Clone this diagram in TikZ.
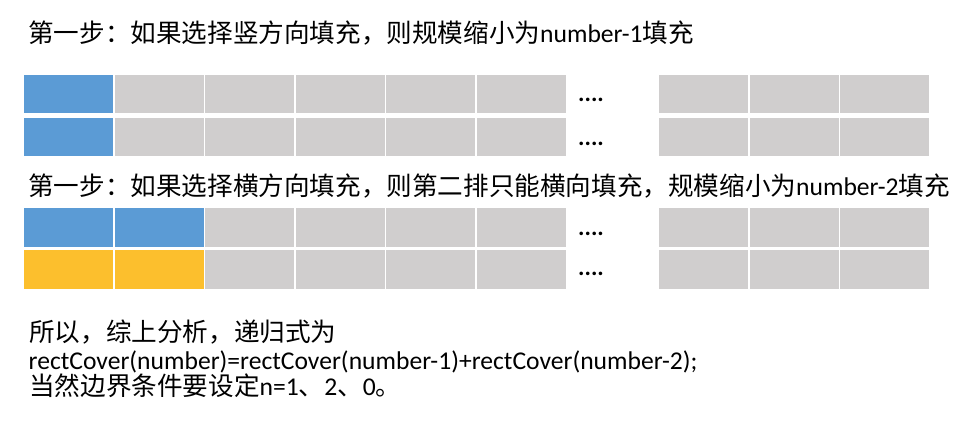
\documentclass[tikz,border=0pt]{standalone}
\usepackage{fontspec}
\setmainfont{Carlito}
\newfontfamily\cjk{Noto Sans CJK SC}
\definecolor{cblue}{HTML}{5B9BD5}
\definecolor{cgray}{HTML}{D0CECE}
\definecolor{cgold}{HTML}{FCBF2D}
\begin{document}
\begin{tikzpicture}[x=1pt,y=-1pt,
  cell/.style={fill=cgray,draw=none,minimum width=89pt,inner sep=0pt,anchor=north west},
  txt/.style={anchor=base west,inner sep=0pt,font=\fontsize{25.6}{30}\selectfont},
  dots/.style={anchor=base west,inner sep=0pt,font=\fontsize{24}{28}\bfseries\selectfont}]
\useasboundingbox[fill=white] (0,0) rectangle (972,436);
% title 1
\node[txt] (t1) at (28,42.5) {{\cjk 第一步：如果选择竖方向填充，则规模缩小为}number-1{\cjk 填充}};
% grid
\foreach \r/\y/\h in {a/75/38,b/118/38,c/208/39,d/250/39}{
  \foreach \i/\x in {1/24,2/114.5,3/205,4/295.5,5/386,6/476.5,7/659,8/749.5,9/840}{
    \node[cell,minimum height=\h pt] (\r\i) at (\x,\y) {};
  }
}
% coloured cells
\node[cell,minimum height=38pt,fill=cblue] (a1b) at (a1.north west) {};
\node[cell,minimum height=38pt,fill=cblue] (b1b) at (b1.north west) {};
\node[cell,minimum height=39pt,fill=cblue] (c1b) at (c1.north west) {};
\node[cell,minimum height=39pt,fill=cblue] (c2b) at (c2.north west) {};
\node[cell,minimum height=39pt,fill=cgold] (d1g) at (d1.north west) {};
\node[cell,minimum height=39pt,fill=cgold] (d2g) at (d2.north west) {};
% dots
\node[dots] (da) at (578,102) {....};
\node[dots] (db) at (578,145) {....};
\node[dots] (dc) at (578,235) {....};
\node[dots] (dd) at (578,275) {....};
% title 2
\node[txt] (t2) at (28,195) {{\cjk 第一步：如果选择横方向填充，则第二排只能横向填充，规模缩小为}number-2{\cjk 填充}};
% conclusion
\node[txt] (l1) at (29,341.5) {{\cjk 所以，综上分析，递归式为}};
\node[txt] (l2) at (28.5,369) {rectCover(number)=rectCover(number-1)+rectCover(number-2);};
\node[txt] (l3) at (29,395.5) {{\cjk 当然边界条件要设定}n=1{\cjk 、}2{\cjk 、}0{\cjk 。}};
\end{tikzpicture}
\end{document}
